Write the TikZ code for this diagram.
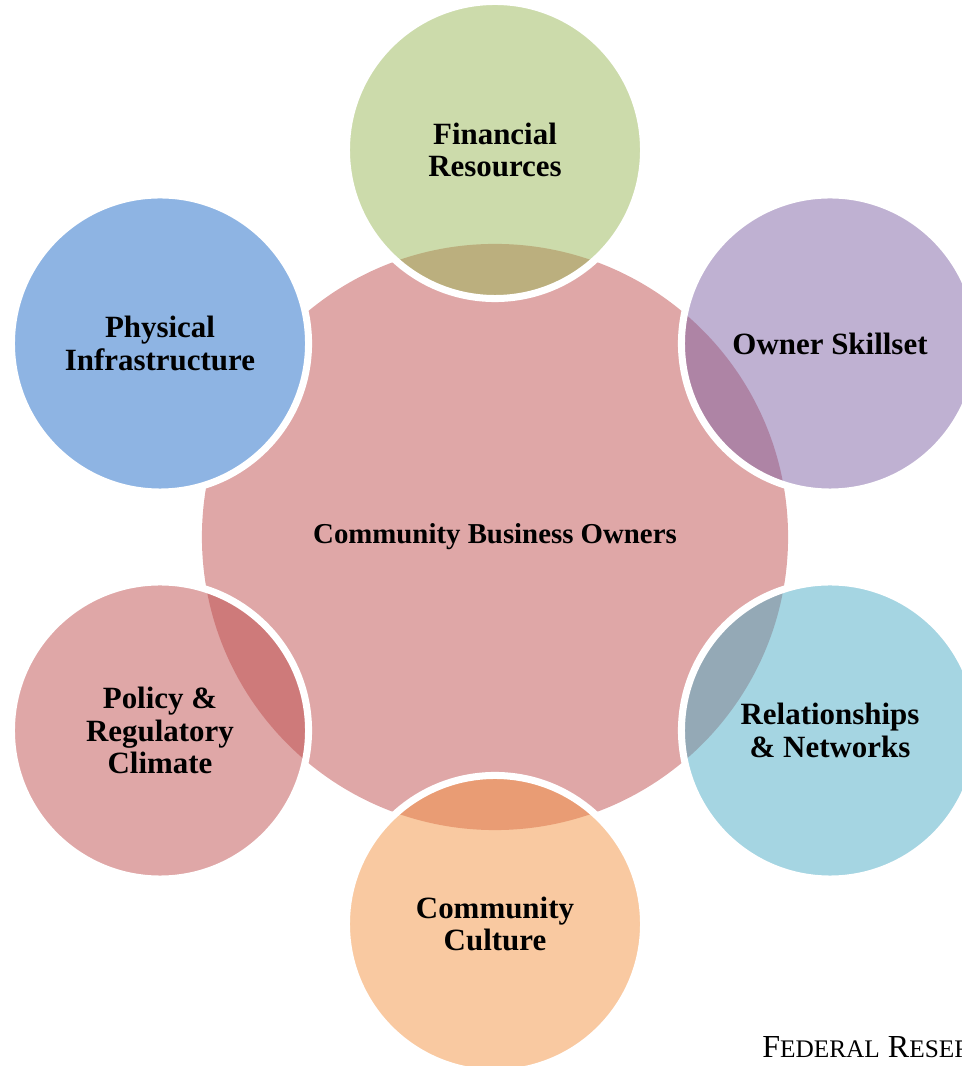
\documentclass[tikz,border=0pt]{standalone}
\usepackage{fontspec}
\setmainfont{Liberation Serif}
\definecolor{cbpink}{HTML}{DFA7A7}
\definecolor{cbgreen}{HTML}{99B757}
\definecolor{cbpurple}{HTML}{7F63A5}
\definecolor{cbcyan}{HTML}{4BABC5}
\definecolor{cborange}{HTML}{F39343}
\definecolor{cbred}{HTML}{BF4F4F}
\definecolor{cbblue}{HTML}{8EB4E3}
\usetikzlibrary{positioning}

\begin{document}
\begin{tikzpicture}[x=0.025cm, y=0.025cm,
  hub/.style={circle, minimum size=14.65cm, inner sep=0pt, fill=cbpink,
              font=\bfseries\fontsize{20.5}{22}\selectfont, align=center},
  sat/.style={circle, minimum size=7.425cm, inner sep=0pt, draw=white, line width=5pt,
              fill opacity=0.5, draw opacity=1, text opacity=1,
              font=\bfseries\fontsize{22}{23}\selectfont, align=center}
]
  \useasboundingbox (0,0) rectangle (961,1066);

  % Center
  \node[hub] (cbo) at (495,529) {\raisebox{-3pt}{Community Business Owners}};

  % Satellites
  \node[sat, fill=cbgreen] (fin) at (495,916) {Financial\\Resources};
  \node[sat, fill=cbpurple] (own) at (830,722.5) {Owner Skillset};
  \node[sat, fill=cbcyan] (rel) at (830,335.5) {Relationships\\\& Networks};
  \node[sat, fill=cborange] (cul) at (495,142) {Community\\Culture};
  \node[sat, fill=cbred] (pol) at (160,335.5) {Policy \&\\Regulatory\\Climate};
  \node[sat, fill=cbblue, fill opacity=1] (phy) at (160,722.5) {Physical\\Infrastructure};

  % Footer
  \node[anchor=base west, inner sep=0pt, font=\fontsize{22.8}{24}\selectfont] (frb) at (762,9)
    {F{\fontsize{18}{19}\selectfont EDERAL} R{\fontsize{18}{19}\selectfont ESER}};
\end{tikzpicture}
\end{document}
